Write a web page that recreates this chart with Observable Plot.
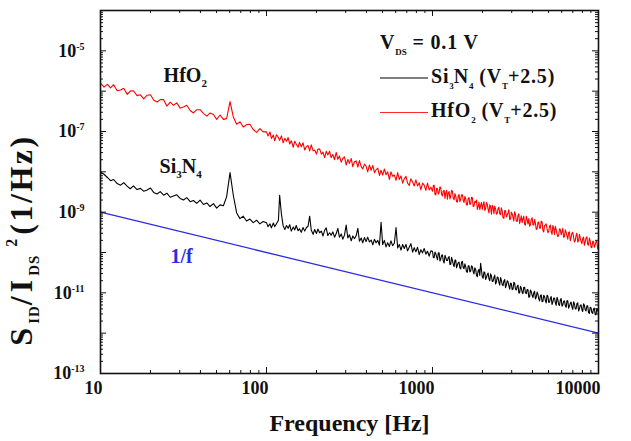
<!DOCTYPE html>
<html>
<head>
<meta charset="utf-8">
<script src="https://cdn.jsdelivr.net/npm/d3@7"></script>
<script src="https://cdn.jsdelivr.net/npm/@observablehq/plot@0.6"></script>
<style>
html,body{margin:0;padding:0;background:#fff;}
#wrap{position:relative;width:631px;height:441px;overflow:hidden;font-family:"Liberation Serif","Times New Roman",serif;font-weight:bold;color:#111;}
#wrap svg{display:block;}
#legend{position:absolute;left:380px;top:25px;font-size:20px;white-space:nowrap;letter-spacing:0.8px;}
#legend .row{height:34px;display:flex;align-items:center;}
#legend .sw{display:inline-block;width:48px;margin-right:3px;position:relative;top:2px;}
#legend .s{font-size:9px;position:relative;top:6px;letter-spacing:0;}
#ytitle{position:absolute;left:21px;top:240px;transform:translate(-50%,-50%) rotate(-90deg);font-size:32px;line-height:1;white-space:nowrap;letter-spacing:4px;}
#ytitle .s{font-size:15px;position:relative;top:7px;letter-spacing:1px;}
#ytitle .p{font-size:16px;position:relative;top:-15px;margin-left:8px;}
#ytitle .u{letter-spacing:2.5px;}
</style>
</head>
<body>
<div id="wrap">
  <div id="ytitle">S<span class="s">ID</span>/I<span class="s">DS</span><span class="p">2</span><span class="u">(1/Hz)</span></div>
  <div id="legend">
    <div class="row"><span>V<span class="s">DS</span> = 0.1 V</span></div>
    <div class="row"><span class="sw" style="border-top:2px solid #7f7f7f"></span><span>Si<span class="s">3</span>N<span class="s">4</span> (V<span class="s">T</span>+2.5)</span></div>
    <div class="row"><span class="sw" style="border-top:1.5px solid #ff2a2a"></span><span>HfO<span class="s">2</span> (V<span class="s">T</span>+2.5)</span></div>
  </div>
</div>
<script>
// ---- frequency grid (Hz) ----
const freqLow = [10,10.5,11,11.5,12,12.6,13.2,13.8,14.5,15.1,15.8,16.6,17.4,18.2,19.1,20,20.9,21.9,22.9,24,25.1,26.3,27.5,28.8,30.2,31.6,33.1,34.7,36.3,38,39.8,41.7,43.7,45.7,47.9,50.1,52.5,55,57.5,60.3,63.1,66.1,69.2,72.4,75.9,79.4,83.2,87.1,91.2,95.5];
const freqMid = [100,102,105,107,110,112,115,118,120,123,126,129,132,135,138,141,145,148,151,155,158,162,166,170,174,178,182,186,191,195,200,204,209,214,219,224,229,234,240,245,251,257,263,269,275,282,288,295,302,309,316,324,331,339,347,355,363,372,380,389,398,407,417,427,437,447,457,468,479,490,501,513,525,537,550,562,575,589,603,617,631,646,661,676,692,708,724,741,759,776,794,813,832,851,871,891,912,933,955,977];
const freqHigh = [1000,1023,1047,1072,1096,1122,1148,1175,1202,1230,1259,1288,1318,1349,1380,1413,1445,1479,1514,1549,1585,1622,1660,1698,1738,1778,1820,1862,1905,1950,1995,2042,2089,2138,2188,2239,2291,2344,2399,2455,2512,2570,2630,2692,2754,2818,2884,2951,3020,3090,3162,3236,3311,3388,3467,3548,3631,3715,3802,3890,3981,4074,4169,4266,4365,4467,4571,4677,4786,4898,5012,5129,5248,5370,5495,5623,5754,5888,6026,6166,6310,6457,6607,6761,6918,7079,7244,7413,7586,7762,7943,8128,8318,8511,8710,8913,9120,9333,9550,9772,10000];
const freqHighB = [1012,1035,1059,1084,1109,1135,1161,1189,1216,1244,1274,1303,1333,1365,1396,1429,1462,1496,1532,1567,1603,1641,1679,1718,1758,1799,1841,1884,1927,1973,2018,2066,2113,2163,2213,2265,2318,2371,2427,2483,2541,2600,2661,2723,2786,2851,2917,2985,3055,3126,3199,3274,3349,3427,3507,3589,3673,3758,3846,3935,4027,4121,4217,4315,4416,4519,4624,4731,4841,4955,5070,5188,5309,5432,5559,5688,5821,5956,6096,6237,6383,6532,6684,6839,6998,7161,7328,7499,7674,7852,8035,8222,8414,8610,8811,9016,9226,9441,9661,9885];

// ---- HfO2 (VT+2.5): log10 of S_ID/I_DS^2 ----
const hfo2LogLow = [-5.80,-5.90,-5.83,-5.92,-5.84,-5.99,-5.97,-5.93,-6.08,-6.00,-5.99,-6.11,-6.09,-6.19,-6.10,-6.09,-6.22,-6.27,-6.21,-6.21,-6.37,-6.27,-6.35,-6.29,-6.42,-6.39,-6.35,-6.48,-6.54,-6.46,-6.46,-6.55,-6.62,-6.54,-6.58,-6.70,-6.59,-6.70,-6.68,-6.26,-6.64,-6.82,-6.76,-6.89,-6.83,-6.82,-6.95,-7.02,-6.93,-7.01];
const hfo2LogMid = [-7.01,-7.11,-7.01,-7.17,-7.09,-7.23,-7.08,-7.15,-7.22,-7.11,-7.28,-7.17,-7.24,-7.15,-7.31,-7.23,-7.39,-7.24,-7.31,-7.39,-7.27,-7.38,-7.28,-7.46,-7.37,-7.35,-7.48,-7.33,-7.48,-7.46,-7.56,-7.44,-7.43,-7.56,-7.51,-7.65,-7.49,-7.58,-7.49,-7.65,-7.57,-7.70,-7.52,-7.69,-7.61,-7.76,-7.67,-7.63,-7.83,-7.69,-7.79,-7.67,-7.87,-7.75,-7.73,-7.88,-7.72,-7.87,-7.93,-7.81,-7.86,-8.00,-7.83,-7.96,-7.84,-8.02,-7.95,-7.91,-8.09,-7.96,-8.08,-7.93,-8.07,-8.00,-8.19,-8.00,-8.11,-8.08,-8.21,-8.02,-8.19,-8.10,-8.28,-8.17,-8.11,-8.28,-8.34,-8.17,-8.25,-8.35,-8.20,-8.35,-8.27,-8.45,-8.28,-8.33,-8.46,-8.28,-8.45,-8.38];
const hfo2LogHigh = [-8.48,-8.33,-8.57,-8.42,-8.51,-8.40,-8.60,-8.46,-8.52,-8.68,-8.49,-8.61,-8.48,-8.69,-8.59,-8.75,-8.56,-8.68,-8.57,-8.76,-8.66,-8.82,-8.64,-8.79,-8.64,-8.85,-8.76,-8.93,-8.75,-8.83,-8.93,-8.74,-8.91,-8.81,-9.02,-8.86,-8.83,-9.04,-8.92,-9.03,-8.88,-9.06,-8.98,-9.15,-8.96,-9.07,-8.94,-9.17,-9.04,-9.22,-9.06,-9.23,-9.04,-9.19,-9.26,-9.10,-9.32,-9.18,-9.16,-9.31,-9.14,-9.32,-9.27,-9.41,-9.24,-9.40,-9.24,-9.49,-9.32,-9.41,-9.48,-9.32,-9.55,-9.40,-9.35,-9.53,-9.58,-9.43,-9.49,-9.62,-9.44,-9.59,-9.51,-9.71,-9.52,-9.62,-9.71,-9.52,-9.71,-9.64,-9.78,-9.62,-9.74,-9.61,-9.82,-9.71,-9.88,-9.72,-9.81,-9.72,-9.87];
const hfo2LogHighB = [-8.34,-8.56,-8.41,-8.55,-8.37,-8.56,-8.48,-8.66,-8.46,-8.53,-8.67,-8.46,-8.65,-8.54,-8.74,-8.60,-8.74,-8.57,-8.71,-8.61,-8.82,-8.66,-8.81,-8.63,-8.86,-8.73,-8.70,-8.87,-8.94,-8.76,-8.82,-8.96,-8.76,-8.93,-8.82,-9.05,-8.88,-8.85,-9.05,-8.91,-9.04,-8.89,-9.14,-8.96,-9.12,-9.02,-9.18,-9.00,-9.13,-8.99,-9.22,-9.08,-9.28,-9.09,-9.16,-9.30,-9.10,-9.29,-9.35,-9.18,-9.31,-9.18,-9.43,-9.26,-9.40,-9.22,-9.45,-9.33,-9.29,-9.51,-9.35,-9.49,-9.33,-9.55,-9.43,-9.61,-9.41,-9.56,-9.40,-9.61,-9.50,-9.67,-9.49,-9.63,-9.50,-9.74,-9.57,-9.74,-9.55,-9.73,-9.65,-9.82,-9.64,-9.80,-9.64,-9.87,-9.72,-9.87,-9.73,-9.91];

// ---- Si3N4 (VT+2.5): log10 of S_ID/I_DS^2 ----
const si3n4LogLow = [-8.00,-8.06,-8.14,-8.22,-8.19,-8.29,-8.33,-8.27,-8.36,-8.42,-8.35,-8.44,-8.41,-8.48,-8.45,-8.40,-8.51,-8.55,-8.49,-8.58,-8.53,-8.63,-8.60,-8.57,-8.66,-8.70,-8.64,-8.74,-8.71,-8.78,-8.70,-8.81,-8.77,-8.86,-8.79,-8.90,-8.82,-8.84,-8.62,-8.02,-8.58,-9.02,-9.16,-9.10,-9.22,-9.17,-9.26,-9.20,-9.29,-9.23];
const si3n4LogMid = [-9.26,-9.36,-9.29,-9.39,-9.27,-9.36,-9.28,-9.20,-8.58,-9.05,-9.34,-9.43,-9.33,-9.40,-9.31,-9.47,-9.37,-9.44,-9.33,-9.46,-9.41,-9.50,-9.38,-9.47,-9.38,-9.35,-9.10,-9.44,-9.55,-9.43,-9.53,-9.42,-9.51,-9.47,-9.59,-9.45,-9.39,-9.58,-9.51,-9.57,-9.49,-9.62,-9.53,-9.40,-9.62,-9.54,-9.67,-9.57,-9.32,-9.64,-9.56,-9.71,-9.59,-9.66,-9.58,-9.40,-9.72,-9.64,-9.76,-9.63,-9.73,-9.62,-9.74,-9.69,-9.81,-9.67,-9.76,-9.70,-9.82,-9.25,-9.80,-9.70,-9.86,-9.76,-9.85,-9.71,-9.83,-9.77,-9.38,-9.89,-9.80,-9.94,-9.80,-9.90,-9.80,-9.96,-9.87,-9.78,-9.99,-9.88,-9.98,-9.87,-10.05,-9.93,-10.01,-9.90,-10.04,-9.97,-10.09,-9.96];
const si3n4LogHigh = [-9.97,-10.13,-10.03,-10.18,-10.01,-10.16,-10.06,-10.26,-10.12,-10.20,-10.10,-10.29,-10.19,-10.35,-10.19,-10.31,-10.24,-10.41,-10.22,-10.40,-10.35,-10.49,-10.33,-10.46,-10.35,-10.53,-10.42,-10.60,-10.42,-10.27,-10.60,-10.48,-10.67,-10.55,-10.65,-10.53,-10.72,-10.62,-10.78,-10.61,-10.74,-10.62,-10.80,-10.70,-10.87,-10.70,-10.83,-10.76,-10.92,-10.74,-10.91,-10.84,-11.00,-10.84,-10.99,-10.86,-11.00,-10.92,-11.11,-10.93,-11.06,-11.00,-11.15,-10.98,-11.15,-11.07,-11.22,-11.06,-11.19,-11.06,-11.24,-11.14,-11.29,-11.13,-11.24,-11.11,-11.29,-11.18,-11.33,-11.21,-11.32,-11.19,-11.38,-11.26,-11.35,-11.22,-11.40,-11.27,-11.45,-11.31,-11.42,-11.27,-11.42,-11.32,-11.49,-11.36,-11.49,-11.40,-11.54,-11.39,-11.50];
const si3n4LogHighB = [-10.13,-9.99,-10.11,-10.01,-10.21,-10.07,-10.21,-10.07,-10.20,-10.13,-10.30,-10.12,-10.29,-10.19,-10.38,-10.25,-10.38,-10.24,-10.38,-10.28,-10.48,-10.33,-10.48,-10.33,-10.47,-10.38,-10.57,-10.45,-10.57,-10.44,-10.64,-10.50,-10.62,-10.51,-10.70,-10.58,-10.71,-10.56,-10.73,-10.62,-10.81,-10.69,-10.82,-10.67,-10.81,-10.72,-10.91,-10.77,-10.91,-10.76,-10.93,-10.81,-11.00,-10.88,-11.02,-10.86,-11.02,-10.92,-11.10,-10.97,-11.12,-10.96,-11.11,-11.03,-11.20,-11.05,-11.21,-11.09,-11.25,-11.08,-11.23,-11.09,-11.23,-11.13,-11.31,-11.17,-11.31,-11.14,-11.30,-11.20,-11.36,-11.20,-11.33,-11.23,-11.41,-11.27,-11.40,-11.25,-11.40,-11.30,-11.46,-11.31,-11.45,-11.32,-11.51,-11.37,-11.51,-11.38,-11.54,-11.42];

// ---- 1/f reference line ----
const oneOverFFreq = [10, 10000];
const oneOverFS = [1e-9, 1e-12];

// ---- ticks ----
const xMajorTicks = [10, 100, 1000, 10000];
const xTickLabels = ["10", "100", "1000", "10000"];
const yMajorTicks = [1e-13, 1e-12, 1e-11, 1e-10, 1e-9, 1e-8, 1e-7, 1e-6, 1e-5, 1e-4];
const yLabeledTicks = [1e-13, 1e-11, 1e-9, 1e-7, 1e-5];
const yTickLabels = ["10^{-13}", "10^{-11}", "10^{-9}", "10^{-7}", "10^{-5}"];
const minorMultipliers = [2, 3, 4, 5, 6, 7, 8, 9];

// ---- in-plot annotations ----
const annoText = ["HfO_{2}", "Si_{3}N_{4}"];
const annoF = [24, 22.7];
const annoS = [2.45e-6, 1.32e-8];
const slopeText = ["1/f"];
const slopeF = [26.4];
const slopeS = [8.1e-11];

const freq = freqLow.concat(freqMid, freqHigh, freqHighB);
const hfo2Log = hfo2LogLow.concat(hfo2LogMid, hfo2LogHigh, hfo2LogHighB);
const si3n4Log = si3n4LogLow.concat(si3n4LogMid, si3n4LogHigh, si3n4LogHighB);
const toRows = vals => d3.sort(freq.map((f, i) => ({f, S: Math.pow(10, vals[i])})), d => d.f);
const hfo2Rows = toRows(hfo2Log);
const si3n4Rows = toRows(si3n4Log);
const oneOverFRows = oneOverFFreq.map((f, i) => ({f, S: oneOverFS[i]}));
const xMinor = xMajorTicks.slice(0, -1).flatMap(d => minorMultipliers.map(m => m * d));
const yMinor = yMajorTicks.slice(0, -1).flatMap(d => minorMultipliers.map(m => m * d));

const W = 631, H = 441, ML = 100, MR = 33, MT = 10, MB = 68;
const innerW = W - ML - MR, innerH = H - MT - MB;
const MAJ = 6, MIN = 3;
const FONT = '"Liberation Serif","Times New Roman",serif';
const TICK = {stroke: "#111", strokeWidth: 1};

const chart = Plot.plot({
  width: W, height: H,
  marginLeft: ML, marginRight: MR, marginTop: MT, marginBottom: MB,
  style: {fontFamily: FONT, fontWeight: "bold", fontSize: "18px", color: "#111", background: "transparent"},
  x: {type: "log", domain: [10, 10000]},
  y: {type: "log", domain: [1e-13, 1e-4]},
  marks: [
    Plot.line(oneOverFRows, {x: "f", y: "S", stroke: "#2b2be6", strokeWidth: 1.3}),
    Plot.line(si3n4Rows, {x: "f", y: "S", stroke: "#000", strokeWidth: 1.1}),
    Plot.line(hfo2Rows, {x: "f", y: "S", stroke: "#ff0000", strokeWidth: 1.1}),
    Plot.text(annoText, {x: (d, i) => annoF[i], y: (d, i) => annoS[i], text: d => d, textAnchor: "start", fontSize: 20, fill: "#111"}),
    Plot.text(slopeText, {x: (d, i) => slopeF[i], y: (d, i) => slopeS[i], text: d => d, textAnchor: "start", fontSize: 20, fill: "#2b2be6"}),
    // inward ticks on all four sides
    Plot.tickX(xMajorTicks, {x: d => d, insetTop: innerH - MAJ, ...TICK}),
    Plot.tickX(xMinor, {x: d => d, insetTop: innerH - MIN, ...TICK}),
    Plot.tickX(xMajorTicks, {x: d => d, insetBottom: innerH - MAJ, ...TICK}),
    Plot.tickX(xMinor, {x: d => d, insetBottom: innerH - MIN, ...TICK}),
    Plot.tickY(yMajorTicks, {y: d => d, insetRight: innerW - MAJ, ...TICK}),
    Plot.tickY(yMinor, {y: d => d, insetRight: innerW - MIN, ...TICK}),
    Plot.tickY(yMajorTicks, {y: d => d, insetLeft: innerW - MAJ, ...TICK}),
    Plot.tickY(yMinor, {y: d => d, insetLeft: innerW - MIN, ...TICK}),
    // tick labels
    Plot.axisX(xMajorTicks, {anchor: "bottom", tickSize: 0, tickPadding: 8, textAnchor: "end", dx: 2, fontSize: 18,
      tickFormat: d => xTickLabels[xMajorTicks.indexOf(d)], label: "Frequency [Hz]", labelAnchor: "center", labelArrow: "none", labelOffset: 57}),
    Plot.axisY(yLabeledTicks, {anchor: "left", tickSize: 0, tickPadding: 16, fontSize: 18,
      tickFormat: d => yTickLabels[yLabeledTicks.indexOf(d)], label: null}),
    Plot.frame({stroke: "#111", strokeWidth: 1.6})
  ]
});

const wrap = document.getElementById("wrap");
wrap.insertBefore(chart, wrap.firstChild);

// rich text: _{sub} and ^{sup}
const SVGNS = "http://www.w3.org/2000/svg";
function richify(el, size, subShift, supShift) {
  const s = el.textContent;
  if (!/[_^]\{/.test(s)) return;
  el.textContent = "";
  const re = /([_^])\{([^}]*)\}|([^_^]+)/g;
  let m, cur = 0;
  while ((m = re.exec(s))) {
    const ts = document.createElementNS(SVGNS, "tspan");
    if (m[1]) {
      const target = m[1] === "_" ? subShift : -supShift;
      ts.setAttribute("dy", target - cur); cur = target;
      ts.setAttribute("font-size", size);
      ts.textContent = m[2];
    } else {
      ts.setAttribute("dy", -cur); cur = 0;
      ts.textContent = m[3];
    }
    el.appendChild(ts);
  }
}
d3.select(chart).selectAll('g[aria-label="y-axis tick label"] text').each(function() { richify(this, 10, 5, 7); });
d3.select(chart).selectAll('g[aria-label="text"] text').each(function() { richify(this, 11, 5, 7); });
d3.select(chart).selectAll('g[aria-label="x-axis label"] text').attr("font-size", 24);
</script>
</body>
</html>
